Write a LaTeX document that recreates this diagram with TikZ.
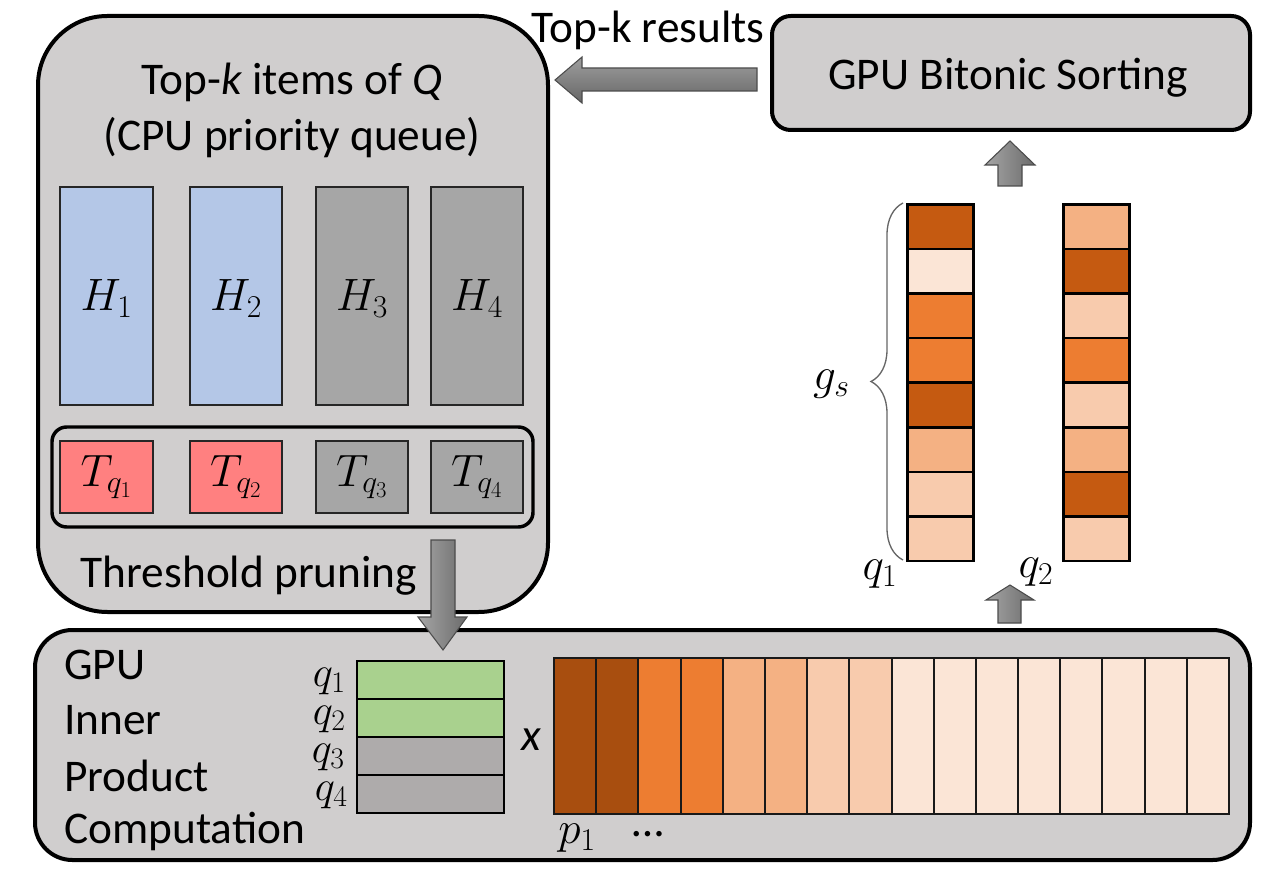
\RequirePackage{fix-cm}
\documentclass[tikz,border=0pt]{standalone}
\usepackage{fontspec}
\setmainfont{Carlito}
\usetikzlibrary{calc,fit,decorations.pathreplacing}
\definecolor{panel}{HTML}{D0CECE}
\definecolor{hblue}{HTML}{B4C7E7}
\definecolor{hgray}{HTML}{A6A6A6}
\definecolor{tred}{HTML}{FF8080}
\definecolor{qgreen}{HTML}{A9D18E}
\definecolor{qgray}{HTML}{AEABAB}
\definecolor{cdark}{HTML}{C55A11}
\definecolor{pdark}{HTML}{A84E0F}
\definecolor{corange}{HTML}{ED7D31}
\definecolor{cmed}{HTML}{F4B183}
\definecolor{clight}{HTML}{F8CBAD}
\definecolor{clightest}{HTML}{FBE5D6}
\begin{document}
\begin{tikzpicture}[x=0.75pt,y=-0.75pt,
  txt/.style={font=\fontsize{34}{40}\selectfont, inner sep=0pt},
  mtxt/.style={font=\fontsize{34}{40}\selectfont, inner sep=0pt},
  qtxt/.style={font=\fontsize{32}{38}\selectfont, inner sep=0pt, anchor=east},
  bigpanel/.style={draw=black, fill=panel, line width=3pt, inner sep=0pt},
  cellbox/.style={draw=black!85, line width=1.6pt, inner sep=0pt},
  colcell/.style={draw=black, line width=2pt, inner sep=0pt, anchor=north west,
     minimum width=49.5pt, minimum height=33.45pt},
  pcell/.style={draw=black!90, line width=1.5pt, inner sep=0pt, anchor=north west,
     minimum width=31.64pt, minimum height=117pt},
  qcell/.style={draw=black, line width=1.6pt, inner sep=0pt, anchor=north west,
     minimum width=110.25pt, minimum height=28.5pt},
  blockarrow/.style={draw=black!70, line width=0.8pt},
]
\useasboundingbox (0,0) rectangle (1282,873);

% ---------- CPU panel ----------
\node[bigpanel, rounded corners=52pt, fit={(38,16)(548,612)}] (cpu) {};
\node[txt] (title1) at (292,82) {Top-\textit{k} items of \textit{Q}};
\node[txt] (title2) at (292,138) {(CPU priority queue)};

\node[cellbox, fill=hblue, fit={(60,187)(153,405)}] (H1) {};
\node[cellbox, fill=hblue, fit={(190,187)(282,405)}] (H2) {};
\node[cellbox, fill=hgray, fit={(316,187)(408,405)}] (H3) {};
\node[cellbox, fill=hgray, fit={(431,187)(523,405)}] (H4) {};
\foreach \i in {1,...,4} {\node[mtxt] at ([yshift=-2pt]H\i) {$H_{\i}$};}

\node[draw=black, line width=2.6pt, rounded corners=11pt, inner sep=0pt, fit={(52,427)(533,527)}] (thr) {};
\node[cellbox, fill=tred, fit={(60,441)(153,513)}] (T1) {};
\node[cellbox, fill=tred, fit={(190,441)(282,513)}] (T2) {};
\node[cellbox, fill=hgray, fit={(316,441)(408,513)}] (T3) {};
\node[cellbox, fill=hgray, fit={(431,441)(523,513)}] (T4) {};
\foreach \i in {1,...,4} {\node[mtxt] at (T\i) {$T_{q_{\i}}$};}

\node[txt] (prune) at (249,576) {Threshold pruning};

% ---------- GPU bitonic sorting ----------
\node[bigpanel, rounded corners=14pt, fit={(772,16)(1250,130)}] (sort) {};
\node[txt] at (1008,78) {GPU Bitonic Sorting};

\node[txt] (topres) at (648,30) {Top-k results};

% ---------- columns ----------
\def\colAcolors{cdark,clightest,corange,corange,cdark,cmed,clight,clight}
\def\colBcolors{cmed,cdark,clight,corange,clight,cmed,cdark,clight}
\foreach \c [count=\i from 0] in \colAcolors {
  \node[colcell, fill=\c] (A\i) at (906,{203+44.6*\i}) {};
}
\foreach \c [count=\i from 0] in \colBcolors {
  \node[colcell, fill=\c] (B\i) at (1062,{203+44.6*\i}) {};
}
\coordinate (brtop) at (903,203);
\coordinate (brbot) at (903,560);
\draw[black!60, line width=1pt, decorate, decoration={brace, amplitude=24pt}] (brbot) -- (brtop);
\node[mtxt, anchor=east] (gs) at (850,384) {$g_s$};
\node[mtxt] (q1lab) at (880,574) {$q_1$};
\node[mtxt] (q2lab) at (1036,572) {$q_2$};

% ---------- GPU inner product panel ----------
\node[bigpanel, rounded corners=28pt, fit={(35,630)(1250,860)}] (gpu) {};
\node[txt, anchor=west] at (64,665) {GPU};
\node[txt, anchor=west] at (64,720) {Inner};
\node[txt, anchor=west] at (64,776) {Product};
\node[txt, anchor=west] at (64,831) {Computation};

\node[qcell, fill=qgreen] (Q1) at (356,660) {};
\node[qcell, fill=qgreen] (Q2) at (356,698) {};
\node[qcell, fill=qgray] (Q3) at (356,736) {};
\node[qcell, fill=qgray] (Q4) at (356,774) {};
\node[qtxt] at (346,681) {$q_1$};
\node[qtxt] at (346,719) {$q_2$};
\node[qtxt] at (345,757) {$q_3$};
\node[qtxt] at (348,795) {$q_4$};

\node[txt] (times) at (531,740) {\textit{x}};

\def\pcolors{pdark,pdark,corange,corange,cmed,cmed,clight,clight,clightest,clightest,clightest,clightest,clightest,clightest,clightest,clightest}
\foreach \c [count=\i from 0] in \pcolors {
  \node[pcell, fill=\c] (P\i) at ({553+42.19*\i},657) {};
}
\node[mtxt] (p1lab) at (577,838) {$p_1$};
\node[txt] (dots) at (648,834) {…};

% ---------- block arrows ----------
\path[blockarrow, top color=black!38, bottom color=black!60]
  (757,68) -- (582,68) -- (582,57) -- (555,80) -- (582,103) -- (582,91) -- (757,91) -- cycle;
\path[blockarrow, left color=black!35, right color=black!58]
  (431,540) -- (455,540) -- (455,617) -- (467,617) -- (443,650) -- (418,617) -- (431,617) -- cycle;
\path[blockarrow, left color=black!35, right color=black!58]
  (998,186) -- (998,165) -- (985,165) -- (1010,141) -- (1035,165) -- (1022,165) -- (1022,186) -- cycle;
\path[blockarrow, left color=black!35, right color=black!58]
  (998,623) -- (998,600) -- (986,600) -- (1010,585) -- (1034,600) -- (1021,600) -- (1021,623) -- cycle;
\end{tikzpicture}
\end{document}
